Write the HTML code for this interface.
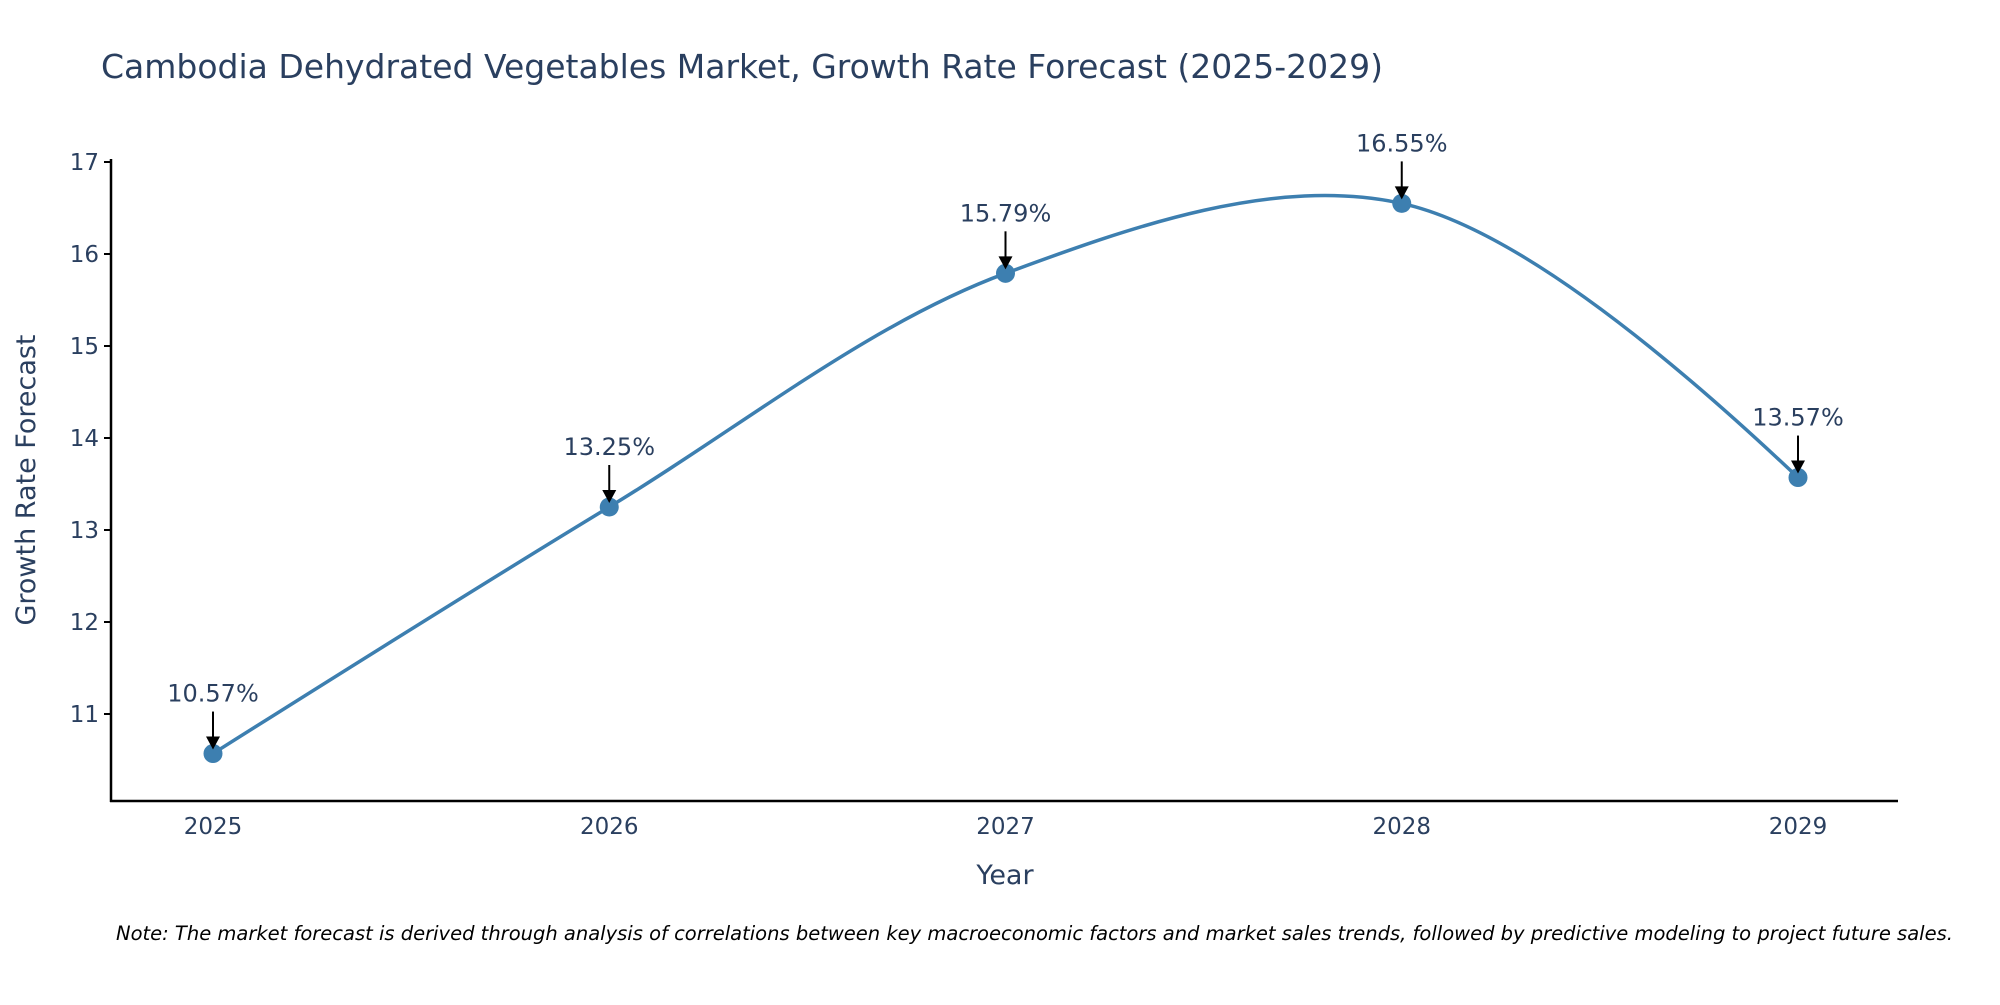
<!DOCTYPE html>
<html><head><meta charset="utf-8"><style>
body{margin:0;background:#fff;}
svg text{font-family:"DejaVu Sans","Liberation Sans",sans-serif;}
</style></head><body>
<svg id="chart" width="2000" height="1000" xmlns="http://www.w3.org/2000/svg">
<text x="101" y="78" font-size="33" fill="#2a3f5f">Cambodia Dehydrated Vegetables Market, Growth Rate Forecast (2025-2029)</text>
<g id="yticks"></g>
<g id="xticks"></g>
<line x1="111" y1="159" x2="111" y2="802" stroke="#000" stroke-width="2.5"/>
<line x1="110" y1="801" x2="1898" y2="801" stroke="#000" stroke-width="2.5"/>
<text x="0" y="0" transform="translate(35,480) rotate(-90)" text-anchor="middle" font-size="27" fill="#2a3f5f">Growth Rate Forecast</text>
<text x="1005" y="884" text-anchor="middle" font-size="27" fill="#2a3f5f">Year</text>
<path id="line" fill="none" stroke="#3d7fb0" stroke-width="3.5"/>
<g id="marks"></g>
<g id="ann"></g>
<text x="116" y="940" font-size="19.5" font-style="italic" fill="#000">Note: The market forecast is derived through analysis of correlations between key macroeconomic factors and market sales trends, followed by predictive modeling to project future sales.</text>
</svg>
<script>
const years = ["2025","2026","2027","2028","2029"];
const values = [10.57, 13.25, 15.79, 16.55, 13.57];
const yTickValues = [11,12,13,14,15,16,17];
const NS="http://www.w3.org/2000/svg";
const X0=213, X1=1798, Y11=714, PER=92;
function xs(i){return X0+(X1-X0)*i/(years.length-1);}
function ys(v){return Y11-(v-11)*PER;}
function mk(t,a){const e=document.createElementNS(NS,t);for(const k in a)e.setAttribute(k,a[k]);return e;}
const yt=document.getElementById('yticks');
yTickValues.forEach(v=>{
  const t=mk('text',{x:99,y:ys(v)+8,'text-anchor':'end','font-size':23,fill:'#2a3f5f'});
  
  
  t.textContent=v;yt.appendChild(t);
  const l=mk('line',{x1:104,x2:111,y1:ys(v),y2:ys(v),stroke:'#000','stroke-width':2});
  
  
  yt.appendChild(l);
});
const xt=document.getElementById('xticks');
years.forEach((y,i)=>{
  const t=mk('text',{x:xs(i),y:834,'text-anchor':'middle','font-size':23,fill:'#2a3f5f'});
  
  
  t.textContent=y;xt.appendChild(t);
});
const pts=values.map((v,i)=>[xs(i),ys(v)]);
function tangent(p,c,n,s){
  const d1x=p[0]-c[0],d1y=p[1]-c[1],d2x=n[0]-c[0],d2y=n[1]-c[1];
  const d1a=Math.pow(d1x*d1x+d1y*d1y,0.25),d2a=Math.pow(d2x*d2x+d2y*d2y,0.25);
  const nx=(d2a*d2a*d1x-d1a*d1a*d2x)*s,ny=(d2a*d2a*d1y-d1a*d1a*d2y)*s;
  const de1=3*d2a*(d1a+d2a),de2=3*d1a*(d1a+d2a);
  return [[c[0]+nx/de1,c[1]+ny/de1],[c[0]-nx/de2,c[1]-ny/de2]];
}
const tg=[];for(let i=1;i<pts.length-1;i++)tg.push(tangent(pts[i-1],pts[i],pts[i+1],1));
const P=p=>p[0].toFixed(2)+','+p[1].toFixed(2);
let d='M'+P(pts[0])+'Q'+P(tg[0][0])+' '+P(pts[1]);
for(let i=2;i<pts.length-1;i++)d+='C'+P(tg[i-2][1])+' '+P(tg[i-1][0])+' '+P(pts[i]);
d+='Q'+P(tg[pts.length-3][1])+' '+P(pts[pts.length-1]);
document.getElementById('line').setAttribute('d',d);
const mg=document.getElementById('marks'),ag=document.getElementById('ann');
pts.forEach((p,i)=>{
  const c=mk('circle',{cx:p[0],cy:p[1],r:9.5,fill:'#3d7fb0'});
  
  
  mg.appendChild(c);
  const l=mk('line',{x1:p[0],x2:p[0],y1:p[1]-42,y2:p[1]-16,stroke:'#000','stroke-width':2});
  
  
  ag.appendChild(l);
  const h=mk('polygon',{points:`${p[0]-7},${p[1]-17} ${p[0]+7},${p[1]-17} ${p[0]},${p[1]-4}`,fill:'#000'});
  
  
  ag.appendChild(h);
  const t=mk('text',{x:p[0],y:p[1]-52,'text-anchor':'middle','font-size':24,fill:'#2a3f5f'});
  
  
  t.textContent=values[i].toFixed(2)+'%';ag.appendChild(t);
});
</script>
</body></html>
